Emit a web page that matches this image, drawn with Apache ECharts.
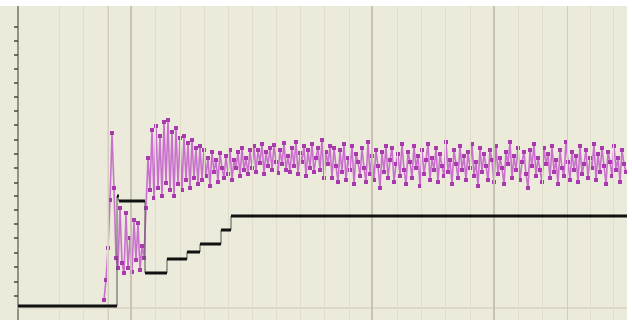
<!DOCTYPE html>
<html>
<head>
<meta charset="utf-8">
<script src="https://cdn.jsdelivr.net/npm/echarts@6/dist/echarts.min.js"></script>
<style>
  html, body { margin: 0; padding: 0; background: #fff; }
  #chart { position: absolute; left: 0; top: 6px; width: 627px; height: 314px; background: #ECEADB; }
</style>
</head>
<body>
<div id="chart"></div>
<script>
// response samples (purple), one every 2 units starting at x = 86
const responseStart = 86
const responseStep = 2
const responseY = [
  8, 28, 60, 108, 175, 120, 50, 40, 100, 45, 35, 95, 40, 70, 36, 88, 48, 85, 38, 62, 50, 100,
  150, 118, 178, 110, 182, 120, 172, 112, 186, 125, 188, 118, 176, 112, 180, 124, 170, 118,
  172, 128, 165, 120, 168, 130, 160, 124, 162,
  128, 158, 132, 150, 122, 156, 136, 148, 126, 155, 140, 130, 152, 134, 158, 128, 148, 140,
  156, 132, 160, 138, 150, 134, 158,
  140, 162, 136, 158, 145, 164, 134, 156, 142, 160, 138, 163, 146, 135, 158, 144, 165, 138,
  152, 136, 160, 142, 166, 134, 155, 146, 162, 132, 158, 140, 164, 136, 150, 160, 138, 168,
  130, 156, 144, 162,
  130, 160, 142, 126, 158, 136, 164, 128, 150, 138,
  162, 124, 154, 146, 132, 160, 140, 126, 166, 134,
  152, 128, 158, 142, 120, 156, 136, 162, 130, 148,
  160, 126, 144, 154, 132, 164, 138, 124, 156, 146,
  130, 162, 140, 152, 122, 158, 134, 148, 164, 128,
  150, 138, 160, 126, 154, 142, 132, 166, 136, 148,
  124, 158, 144, 130, 162, 138, 152, 128, 156, 140,
  164, 132, 146, 122, 160, 136, 154, 142, 128, 158,
  148, 126, 162, 134, 150, 140, 124, 156, 144, 166,
  130, 152, 138, 160, 128, 146, 156, 134, 120, 158,
  142, 164, 132, 150, 138, 126, 160, 144, 154, 130,
  162, 136, 148, 124, 158, 140, 132, 166, 146, 128,
  156, 138, 152, 126, 162, 134, 144, 158, 130, 150,
  140, 164, 128, 154, 136, 160, 142, 124, 156, 146,
  132, 162, 138, 150, 126, 158, 144, 136
]

// setpoint (black step line) change points
const setpointX = [0, 99, 101, 127, 149, 169, 182, 203, 213, 609]
const setpointY = [2, 112, 107, 35, 49, 56, 64, 78, 92, 92]

// tick positions
const xTicks = [41, 65, 89, 113, 137, 162, 186, 210, 234, 258, 282, 306, 331, 354, 379, 403, 427, 452, 476, 500, 524, 549, 572, 595]
const yTicks = [12, 26, 41, 55, 70, 84, 98, 112, 125, 140, 154, 168, 183, 197, 211, 225, 239, 253, 267, 281]
const majorGridX = [113, 354, 476]
const midGridX = [90, 549]

const responseData = responseY.map((y, i) => [responseStart + i * responseStep, y])
const setpointData = setpointX.map((x, i) => [x, setpointY[i]])
// horizontal runs of the step line: [from x, to x, level]
const setpointRuns = setpointX.slice(0, -1).map((x, i) => [x, setpointX[i + 1], setpointY[i]])

const gridLines = xTicks.map(v => ({ xAxis: v, lineStyle: { color: '#E0DDCA', width: 1, type: 'solid' } }))
  .concat(midGridX.map(v => ({ xAxis: v, lineStyle: { color: '#D2CEBB', width: 1, type: 'solid' } })))
  .concat(majorGridX.map(v => ({ xAxis: v, lineStyle: { color: '#BDB9A6', width: 1.5, type: 'solid' } })))

const option = {
  animation: false,
  grid: { left: 18, right: 0, top: 0, bottom: 0 },
  xAxis: {
    type: 'value',
    min: 0,
    max: 609,
    axisLine: { onZero: true, lineStyle: { color: '#D6D2BF', width: 1.5 } },
    axisTick: { show: true, customValues: xTicks, length: 3, lineStyle: { color: '#6F6C62', width: 1 } },
    axisLabel: { show: false },
    splitLine: { show: false }
  },
  yAxis: {
    type: 'value',
    min: -12,
    max: 302,
    axisLine: { show: true, lineStyle: { color: '#77746A', width: 1.5 } },
    axisTick: { show: true, customValues: yTicks, length: 4, lineStyle: { color: '#444', width: 1.5 } },
    axisLabel: { show: false },
    splitLine: { show: false }
  },
  series: [
    {
      type: 'line',
      data: [],
      silent: true,
      markLine: { silent: true, symbol: 'none', label: { show: false }, data: gridLines }
    },
    {
      name: 'response',
      type: 'line',
      data: responseData,
      symbol: 'rect',
      symbolSize: 4,
      itemStyle: { color: '#A83AAE' },
      lineStyle: { color: '#C870CC', width: 1.6 },
      z: 3
    },
    {
      name: 'setpoint',
      type: 'line',
      data: setpointData,
      step: 'end',
      showSymbol: false,
      lineStyle: { color: '#555', width: 1 },
      z: 4
    },
    {
      name: 'setpoint runs',
      type: 'custom',
      data: setpointRuns,
      encode: { x: [0, 1], y: 2 },
      renderItem: function (params, api) {
        const a = api.coord([api.value(0), api.value(2)])
        const b = api.coord([api.value(1), api.value(2)])
        return {
          type: 'line',
          shape: { x1: a[0], y1: a[1], x2: b[0], y2: b[1] },
          style: { stroke: '#111', lineWidth: 3 }
        }
      },
      z: 5
    }
  ]
}

echarts.init(document.getElementById('chart')).setOption(option)
</script>
</body>
</html>
